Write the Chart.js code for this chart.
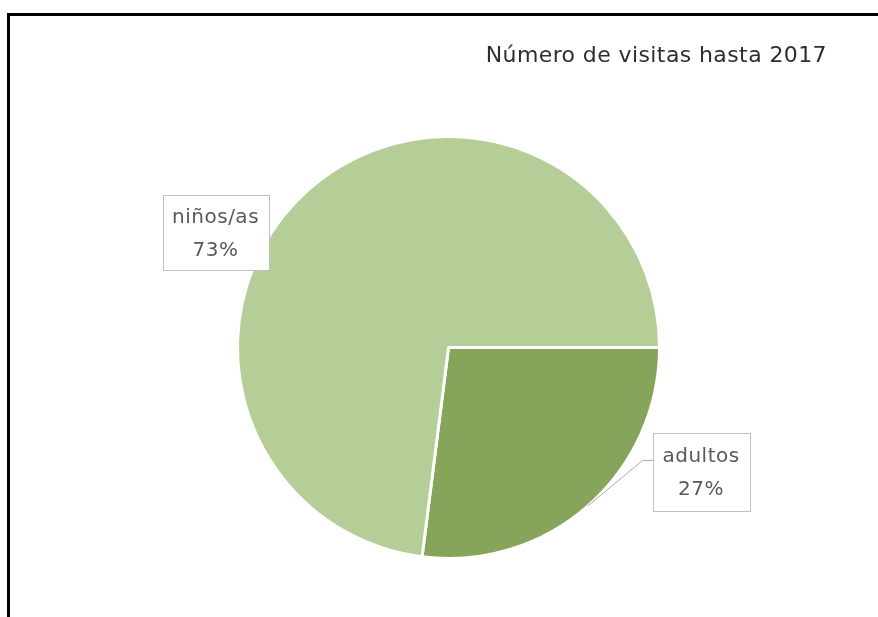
<!DOCTYPE html>
<html>
<head>
<meta charset="utf-8">
<script src="https://cdn.jsdelivr.net/npm/chart.js@4.4.1/dist/chart.umd.min.js"></script>
<style>
  html, body { margin: 0; padding: 0; background: #fff; }
  #wrap { position: relative; width: 878px; height: 617px; overflow: hidden; }
  #frame { position: absolute; left: 7px; top: 13px; width: 880px; height: 620px;
           border-top: 3px solid #000; border-left: 3px solid #000; }
  canvas { position: absolute; left: 0; top: 0; }
</style>
</head>
<body>
<div id="wrap">
  <div id="frame"></div>
  <canvas id="chart" width="878" height="617"></canvas>
</div>
<script>
'use strict';
var titulo = 'Número de visitas hasta 2017';
var categorias = ['adultos', 'niños/as'];
var valores = [27, 73];
var colores = ['#86a55a', '#b5cd97'];

// posicion de cada etiqueta, en radios respecto al centro del pie
var posEtiquetas = [
  { dx: 1.197, dy: 0.592, w: 97, h: 78, leader: true },
  { dx: -1.104, dy: -0.543, w: 106, h: 75, leader: false }
];

var etiquetasPlugin = {
  id: 'etiquetas',
  afterDatasetsDraw: function(chart) {
    var ctx = chart.ctx;
    var meta = chart.getDatasetMeta(0);
    var total = valores.reduce(function(a, b) { return a + b; }, 0);
    ctx.save();
    meta.data.forEach(function(arc, i) {
      var p = posEtiquetas[i];
      var r = arc.outerRadius;
      var cx = arc.x + p.dx * r;
      var cy = arc.y + p.dy * r;
      var x0 = Math.round(cx - p.w / 2) + 0.5;
      var y0 = Math.round(cy - p.h / 2) + 0.5;
      // linea guia
      if (p.leader) {
        var mid = (arc.startAngle + arc.endAngle) / 2;
        var ex = arc.x + Math.cos(mid) * r;
        var ey = arc.y + Math.sin(mid) * r;
        var ly = y0 + 27;
        ctx.strokeStyle = '#a9a9b8';
        ctx.lineWidth = 1;
        ctx.beginPath();
        ctx.moveTo(ex, ey);
        ctx.lineTo(x0 - 11, ly);
        ctx.lineTo(x0, ly);
        ctx.stroke();
      }
      ctx.fillStyle = '#fff';
      ctx.fillRect(x0, y0, p.w, p.h);
      ctx.strokeStyle = '#bfbfbf';
      ctx.lineWidth = 1;
      ctx.strokeRect(x0, y0, p.w, p.h);
      ctx.fillStyle = '#595959';
      ctx.font = '20px "DejaVu Sans"';
      ctx.letterSpacing = '0.5px';
      ctx.textAlign = 'center';
      ctx.textBaseline = 'alphabetic';
      var pct = Math.round(valores[i] / total * 100) + '%';
      ctx.fillText(categorias[i], cx, cy - 10);
      ctx.fillText(pct, cx, cy + 23);
    });
    // titulo
    ctx.fillStyle = '#2e2e2e';
    ctx.font = '22px "DejaVu Sans"';
    ctx.letterSpacing = '0.4px';
    ctx.textAlign = 'right';
    ctx.fillText(titulo, 827, 62);
    ctx.restore();
  }
};

new Chart(document.getElementById('chart'), {
  type: 'pie',
  data: {
    labels: categorias,
    datasets: [{
      data: valores,
      backgroundColor: colores,
      borderColor: '#ffffff',
      borderWidth: 3,
      hoverOffset: 0
    }]
  },
  options: {
    responsive: false,
    animation: false,
    rotation: 90,
    layout: { padding: { top: 135, bottom: 57, left: 236, right: 217 } },
    plugins: {
      legend: { display: false },
      tooltip: { enabled: false },
      title: { display: false }
    }
  },
  plugins: [etiquetasPlugin]
});
</script>
</body>
</html>
